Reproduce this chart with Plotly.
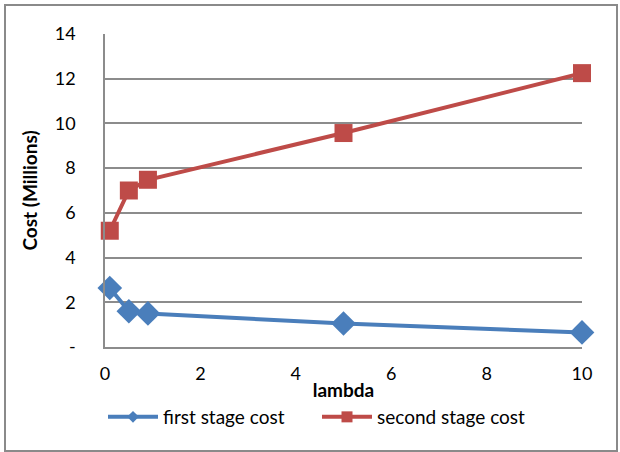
import plotly.graph_objects as go

# lambda values and stage costs (millions)
lam = [0.1, 0.5, 0.9, 5, 10]
first_stage = [2.64, 1.6, 1.5, 1.05, 0.65]
second_stage = [5.2, 7.0, 7.48, 9.57, 12.25]

y_ticks = [0, 2, 4, 6, 8, 10, 12, 14]
y_tick_text = ["-", "2", "4", "6", "8", "10", "12", "14"]
x_ticks = [0, 2, 4, 6, 8, 10]

BLUE = "#4a7ebb"
RED = "#be4b48"
GRID = "#8c8c8c"
FONT = "Lato"

W, H = 620, 452
L, R, T, B = 105, 38, 34, 105
pw, ph = W - L - R, H - T - B

fig = go.Figure()
fig.add_trace(go.Scatter(
    x=lam, y=first_stage, name="first stage cost", mode="lines+markers",
    line=dict(color=BLUE, width=4), cliponaxis=False, showlegend=False,
    marker=dict(symbol="diamond", size=19, color=BLUE),
))
fig.add_trace(go.Scatter(
    x=lam, y=second_stage, name="second stage cost", mode="lines+markers",
    line=dict(color=RED, width=4), cliponaxis=False, showlegend=False,
    marker=dict(symbol="square", size=18, color=RED),
))
# legend entries with smaller symbols
fig.add_trace(go.Scatter(
    x=[None], y=[None], name="first stage cost", mode="lines+markers",
    line=dict(color=BLUE, width=4), marker=dict(symbol="diamond", size=9, color=BLUE),
))
fig.add_trace(go.Scatter(
    x=[None], y=[None], name="second stage cost", mode="lines+markers",
    line=dict(color=RED, width=4), marker=dict(symbol="square", size=11, color=RED),
))

def px_x(v):
    return (v - L) / pw

def px_y(v):
    return (H - B - v) / ph

# outer chart border
fig.add_shape(type="rect", xref="paper", yref="paper",
              x0=px_x(5), x1=px_x(617), y0=px_y(451), y1=px_y(5),
              line=dict(color="#8a8a8a", width=2), layer="below")

fig.update_layout(
    width=W, height=H,
    margin=dict(l=L, r=R, t=T, b=B, pad=0),
    paper_bgcolor="white", plot_bgcolor="white",
    font=dict(family=FONT, size=18, color="black"),
    showlegend=True,
    legend=dict(orientation="h", x=px_x(103), xanchor="left", y=px_y(417), yanchor="middle",
                font=dict(family=FONT, size=19), itemwidth=50, entrywidth=149,
                tracegroupgap=0, bgcolor="rgba(0,0,0,0)"),
    xaxis=dict(
        range=[0, 10], tickvals=x_ticks, showgrid=False, zeroline=False,
        showline=True, linecolor=GRID, linewidth=1.5, ticks="",
        ticklabelstandoff=10, tickfont=dict(size=18),
        title=dict(text="<b>lambda</b>", font=dict(family=FONT, size=19), standoff=0),
    ),
    yaxis=dict(
        range=[0, 14], tickvals=y_ticks, ticktext=y_tick_text,
        showgrid=True, gridcolor=GRID, gridwidth=1.5, zeroline=False,
        showline=True, linecolor=GRID, linewidth=1.5, ticks="",
        ticklabelstandoff=24, tickfont=dict(size=18),
        title=dict(text="<b>Cost (Millions)</b>", font=dict(family=FONT, size=19), standoff=12),
    ),
)

fig.write_html("out.html")
